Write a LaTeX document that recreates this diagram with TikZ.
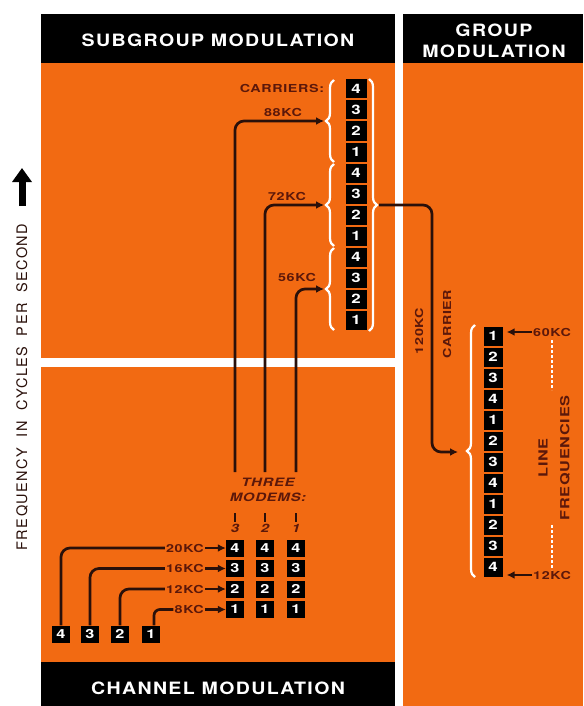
\documentclass[tikz,border=0pt]{standalone}
\usepackage{fontspec}
\setmainfont{TeX Gyre Heros}
\newfontfamily\titlefont[FakeStretch=1.15,LetterSpace=8]{TeX Gyre Heros}
\newfontfamily\widefont[FakeStretch=1.3,LetterSpace=6]{TeX Gyre Heros}
\newfontfamily\axisfont[LetterSpace=10]{TeX Gyre Heros}
\usetikzlibrary{arrows.meta,decorations.pathreplacing}
\definecolor{panelorange}{RGB}{242,106,18}
\definecolor{wireink}{RGB}{42,16,10}
\definecolor{labelink}{RGB}{92,24,10}

\begin{document}
\begin{tikzpicture}[x=1pt,y=-1pt,
    numbox/.style={fill=black, text=white, inner sep=0pt,
      minimum width=21pt, minimum height=19pt,
      font=\widefont\bfseries\fontsize{13}{13}\selectfont},
    smallbox/.style={numbox, minimum width=18pt, minimum height=17pt,
      font=\widefont\bfseries\fontsize{12.5}{12.5}\selectfont},
    kclabel/.style={text=labelink, inner sep=1pt,
      font=\widefont\bfseries\fontsize{11}{11}\selectfont},
    biglabel/.style={kclabel, font=\widefont\bfseries\fontsize{12.5}{12.5}\selectfont},
    modemtext/.style={text=labelink, inner sep=1pt, align=center,
      font=\widefont\bfseries\itshape\fontsize{11.5}{15.5}\selectfont},
    titletext/.style={text=white, align=center,
      font=\titlefont\bfseries\fontsize{17}{21}\selectfont},
    wire/.style={draw=wireink, line width=2.7pt, rounded corners=9pt},
    feed/.style={wire, -{Latex[length=8pt,width=8pt]}},
    bracew/.style={draw=white, line width=2.2pt, decorate,
      decoration={brace, amplitude=8pt}}]
  \useasboundingbox (0,0) rectangle (583,706);

  % Panels
  \fill[white] (0,0) rectangle (583,706);
  \fill[panelorange] (41,63) rectangle (583,706);
  \fill[white] (395,14) rectangle (403,706);
  \fill[white] (41,358) rectangle (395,367);
  \fill[black] (41,14) rectangle (395,63);
  \fill[black] (403,14) rectangle (583,63);
  \fill[black] (41,662) rectangle (395,706);

  % Titles
  \node[titletext] (subtitle) at (218,40) {SUBGROUP MODULATION};
  \node[titletext] (grptitle) at (494,41) {GROUP\\MODULATION};
  \node[titletext] (chantitle) at (218,688) {CHANNEL MODULATION};

  % Frequency axis
  \node[rotate=90, text=wireink, font=\axisfont\fontsize{14.5}{14.5}\selectfont]
    (axis) at (22,387) {FREQUENCY\hspace{5pt} IN\hspace{5pt} CYCLES\hspace{5pt} PER\hspace{5pt} SECOND};
  \draw[black, line width=7pt, -{Triangle[width=19pt,length=14pt]}] (22,206) -- (22,168);

  % Subgroup column
  \foreach \n [count=\i from 0] in {4,3,2,1,4,3,2,1,4,3,2,1}
    \node[numbox] (sg\i) at (356,{89+21*\i}) {\n};
  \draw[bracew] (334,162) -- (334,80);
  \draw[bracew] (334,246) -- (334,164);
  \draw[bracew] (334,330) -- (334,248);
  \draw[bracew] (369,79) -- (369,331);

  \node[kclabel] (carriers) at (282,88) {CARRIERS:};
  \node[kclabel] (k88) at (283,112) {88KC};
  \node[kclabel] (k72) at (287,196) {72KC};
  \node[kclabel] (k56) at (297,277) {56KC};
  \coordinate (in88) at (324,121);
  \coordinate (in72) at (324,205);
  \coordinate (in56) at (324,289);

  % Three modems
  \foreach \c/\x in {3/235,2/265,1/296}{
    \foreach \n [count=\j from 0] in {4,3,2,1}
      \node[smallbox] (m\c r\n) at (\x,{548+20.5*\j}) {\n};
    \node[modemtext] (mn\c) at (\x,528) {\c};
    \draw[wire] ([yshift=1pt]mn\c.north) -- ++(0,-9);
  }
  \node[modemtext] (modems) at (268,490) {THREE\\MODEMS:};
  \draw[feed] (235,472) |- (in88);
  \draw[feed] (265,472) |- (in72);
  \draw[feed] (296,472) |- (in56);

  % Channels
  \node[smallbox] (ch4) at (61,634) {4};
  \node[smallbox] (ch3) at (90,634) {3};
  \node[smallbox] (ch2) at (120,634) {2};
  \node[smallbox] (ch1) at (151,634) {1};
  \node[kclabel, anchor=east] (k20) at (205,548) {20KC};
  \node[kclabel, anchor=east] (k16) at (205,568.5) {16KC};
  \node[kclabel, anchor=east] (k12) at (205,589) {12KC};
  \node[kclabel, anchor=east] (k8) at (205,609.5) {8KC};
  \draw[wire] (ch4.north) |- (k20.west);
  \draw[wire] (ch3.north) |- (k16.west);
  \draw[wire] (ch2.north) |- (k12.west);
  \draw[wire, rounded corners=6pt] ([xshift=3pt]ch1.north) |- (k8.west);
  \draw[feed] (k20.east) -- (m3r4.west);
  \draw[feed] (k16.east) -- (m3r3.west);
  \draw[feed] (k12.east) -- (m3r2.west);
  \draw[feed] (k8.east) -- (m3r1.west);

  % Group carrier
  \coordinate (sgout) at (379,205);
  \coordinate (grpin) at (458,452);
  \draw[feed] (sgout) -- (432,205) |- (grpin);
  \node[kclabel, rotate=90] (c120) at (419,331) {120KC};
  \node[kclabel, rotate=90] (carr) at (447,324) {CARRIER};

  % Line frequencies
  \foreach \n [count=\i from 0] in {1,2,3,4,1,2,3,4,1,2,3,4}
    \node[numbox, minimum width=19pt] (lf\i) at (493,{336+21*\i}) {\n};
  \draw[bracew] (475,577) -- (475,325);
  \node[kclabel, anchor=west] (k60) at (532,332) {60KC};
  \node[kclabel, anchor=west] (k12l) at (532,575) {12KC};
  \draw[feed] (k60.west) -- ([xshift=4pt]k60.west -| lf0.east);
  \draw[feed] (k12l.west) -- ([xshift=4pt]k12l.west -| lf11.east);
  \node[biglabel, rotate=90] (linel) at (543,458) {LINE};
  \node[biglabel, rotate=90] (freql) at (565,458) {FREQUENCIES};
  \draw[white, line width=1.3pt, dash pattern=on 3pt off 2pt] (552,340) -- (552,390);
  \draw[white, line width=1.3pt, dash pattern=on 3pt off 2pt] (552,525) -- (552,570);

\end{tikzpicture}
\end{document}
